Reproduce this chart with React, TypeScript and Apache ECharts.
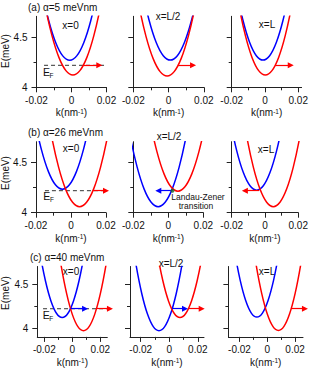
import React, { useEffect, useRef } from "react";
import * as echarts from "echarts";

// ---------- data ----------
const EF = 4.22; // Fermi level (meV)

const xMajorTicks = [-0.02, 0, 0.02];
const xMinorTicks = [-0.01, 0.01];
const yMajorTicks = [4, 4.5];
const yMinorTicks = [4.25];

// (a) alpha = 5 meVnm
const aLeftBlue = [[-0.021, 5.37], [-0.017, 4.974], [-0.013, 4.666], [-0.009, 4.446], [-0.005, 4.314], [-0.001, 4.27], [0.003, 4.314], [0.007, 4.446], [0.011, 4.666], [0.015, 4.974], [0.019, 5.37]];
const aLeftRed = [[-0.0192, 5.223], [-0.0152, 4.827], [-0.0112, 4.519], [-0.0072, 4.299], [-0.0032, 4.167], [0.0008, 4.123], [0.0048, 4.167], [0.0088, 4.299], [0.0128, 4.519], [0.0168, 4.827], [0.0208, 5.223]];
const aMidBlue = [[-0.019, 5.372], [-0.015, 4.976], [-0.011, 4.668], [-0.007, 4.448], [-0.003, 4.316], [0.001, 4.272], [0.005, 4.316], [0.009, 4.448], [0.013, 4.668], [0.017, 4.976], [0.021, 5.372]];
const aMidRed = [[-0.0208, 5.213], [-0.0168, 4.817], [-0.0128, 4.509], [-0.0088, 4.289], [-0.0048, 4.157], [-0.0008, 4.113], [0.0032, 4.157], [0.0072, 4.289], [0.0112, 4.509], [0.0152, 4.817], [0.0192, 5.213]];
const aRightBlue = [[-0.0212, 5.372], [-0.0172, 4.976], [-0.0132, 4.668], [-0.0092, 4.448], [-0.0052, 4.316], [-0.0012, 4.272], [0.0028, 4.316], [0.0068, 4.448], [0.0108, 4.668], [0.0148, 4.976], [0.0188, 5.372]];
const aRightRed = [[-0.0198, 5.223], [-0.0158, 4.827], [-0.0118, 4.519], [-0.0078, 4.299], [-0.0038, 4.167], [0.0002, 4.123], [0.0042, 4.167], [0.0082, 4.299], [0.0122, 4.519], [0.0162, 4.827], [0.0202, 5.223]];

// (b) alpha = 26 meVnm
const bLeftBlue = [[-0.0249, 5.335], [-0.0209, 4.939], [-0.0169, 4.631], [-0.0129, 4.411], [-0.0089, 4.279], [-0.0049, 4.235], [-0.0009, 4.279], [0.0031, 4.411], [0.0071, 4.631], [0.0111, 4.939], [0.0151, 5.335]];
const bLeftRed = [[-0.0151, 5.16], [-0.0111, 4.764], [-0.0071, 4.456], [-0.0031, 4.236], [0.0009, 4.104], [0.0049, 4.06], [0.0089, 4.104], [0.0129, 4.236], [0.0169, 4.456], [0.0209, 4.764], [0.0249, 5.16]];
const bMidBlue = [[-0.0258, 5.16], [-0.0218, 4.764], [-0.0178, 4.456], [-0.0138, 4.236], [-0.0098, 4.104], [-0.0058, 4.06], [-0.0018, 4.104], [0.0022, 4.236], [0.0062, 4.456], [0.0102, 4.764], [0.0142, 5.16]];
const bMidRed = [[-0.0145, 5.315], [-0.0105, 4.919], [-0.0065, 4.611], [-0.0025, 4.391], [0.0015, 4.259], [0.0055, 4.215], [0.0095, 4.259], [0.0135, 4.391], [0.0175, 4.611], [0.0215, 4.919], [0.0255, 5.315]];
const bRightBlue = [[-0.025, 5.325], [-0.021, 4.929], [-0.017, 4.621], [-0.013, 4.401], [-0.009, 4.269], [-0.005, 4.225], [-0.001, 4.269], [0.003, 4.401], [0.007, 4.621], [0.011, 4.929], [0.015, 5.325]];
const bRightRed = [[-0.015, 5.16], [-0.011, 4.764], [-0.007, 4.456], [-0.003, 4.236], [0.001, 4.104], [0.005, 4.06], [0.009, 4.104], [0.013, 4.236], [0.017, 4.456], [0.021, 4.764], [0.025, 5.16]];

// (c) alpha = 40 meVnm
const cLeftBlue = [[-0.0272, 5.28], [-0.0232, 4.862], [-0.0192, 4.538], [-0.0152, 4.306], [-0.0112, 4.166], [-0.0072, 4.12], [-0.0032, 4.166], [0.0008, 4.306], [0.0048, 4.538], [0.0088, 4.862], [0.0128, 5.28]];
const cLeftRed = [[-0.012, 5.13], [-0.008, 4.712], [-0.004, 4.388], [0, 4.156], [0.004, 4.016], [0.008, 3.97], [0.012, 4.016], [0.016, 4.156], [0.02, 4.388], [0.024, 4.712], [0.028, 5.13]];
const cMidBlue = [[-0.0272, 5.13], [-0.0232, 4.712], [-0.0192, 4.388], [-0.0152, 4.156], [-0.0112, 4.016], [-0.0072, 3.97], [-0.0032, 4.016], [0.0008, 4.156], [0.0048, 4.388], [0.0088, 4.712], [0.0128, 5.13]];
const cMidRed = [[-0.0125, 5.28], [-0.0085, 4.862], [-0.0045, 4.538], [-0.0005, 4.306], [0.0035, 4.166], [0.0075, 4.12], [0.0115, 4.166], [0.0155, 4.306], [0.0195, 4.538], [0.0235, 4.862], [0.0275, 5.28]];
const cRightBlue = [[-0.0275, 5.285], [-0.0235, 4.867], [-0.0195, 4.543], [-0.0155, 4.311], [-0.0115, 4.171], [-0.0075, 4.125], [-0.0035, 4.171], [0.0005, 4.311], [0.0045, 4.543], [0.0085, 4.867], [0.0125, 5.285]];
const cRightRed = [[-0.012, 5.133], [-0.008, 4.715], [-0.004, 4.391], [0, 4.159], [0.004, 4.019], [0.008, 3.973], [0.012, 4.019], [0.016, 4.159], [0.02, 4.391], [0.024, 4.715], [0.028, 5.133]];

// arrows along E_F: [k start, k end]
const aLeftRedArrow = [0.0067, 0.0159];
const aMidRedArrow = [0.0054, 0.0139];
const aRightRedArrow = [0.0061, 0.0155];
const bLeftRedArrow = [0.0125, 0.02];
const bMidBlueArrow = [0.0024, -0.0057];
const bRightRedArrow = [-0.0035, -0.0121];
const cLeftBlueArrow = [-0.0013, 0.0091];
const cLeftRedArrow = [0.0173, 0.0269];
const cMidBlueArrow = [0.0019, 0.011];
const cMidRedArrow = [0.0134, 0.0227];
const cRightRedArrow = [0.0173, 0.0271];

// Landau-Zener crossing point
const lzPoint = [0.0024, 4.22];

// E_F dashed line extent, in each row's left-panel k units
const efSpanA = [-0.0157, 0.1283];
const efSpanB = [-0.0149, 0.1263];
const efSpanC = [-0.0209, 0.164];

// ---------- layout / styles ----------
const FONT = '"Liberation Sans", Arial, Helvetica, sans-serif';
const RED = "#ff0000";
const BLUE = "#0000ff";
const AXIS = "#222";

const panels = [
  { left: 36.5, top: 16.3, width: 70, height: 71, x: [-0.02, 0.02], y: [4, 4.71], yLab: true, blue: aLeftBlue, red: aLeftRed, arrows: [[aLeftRedArrow, RED]] },
  { left: 133.3, top: 16.3, width: 70.5, height: 71, x: [-0.02, 0.02], y: [4, 4.71], yLab: false, blue: aMidBlue, red: aMidRed, arrows: [[aMidRedArrow, RED]] },
  { left: 231.7, top: 16.3, width: 73.5, height: 71, x: [-0.02, 0.022], y: [4, 4.71], yLab: false, blue: aRightBlue, red: aRightRed, arrows: [[aRightRedArrow, RED]] },
  { left: 36, top: 141.7, width: 70, height: 71, x: [-0.02, 0.02], y: [4, 4.71], yLab: true, blue: bLeftBlue, red: bLeftRed, arrows: [[bLeftRedArrow, RED]] },
  { left: 133.3, top: 141.7, width: 70, height: 71, x: [-0.02, 0.02], y: [4, 4.71], yLab: false, blue: bMidBlue, red: bMidRed, arrows: [[bMidBlueArrow, BLUE]] },
  { left: 231.7, top: 141.7, width: 69, height: 71, x: [-0.02, 0.02], y: [4, 4.71], yLab: false, blue: bRightBlue, red: bRightRed, arrows: [[bRightRedArrow, RED]] },
  { left: 37.3, top: 266.5, width: 70, height: 70.4, x: [-0.025, 0.025], y: [3.9, 4.7], yLab: true, blue: cLeftBlue, red: cLeftRed, arrows: [[cLeftBlueArrow, BLUE], [cLeftRedArrow, RED]] },
  { left: 130, top: 266.5, width: 74, height: 70.4, x: [-0.0275, 0.0243], y: [3.9, 4.7], yLab: false, blue: cMidBlue, red: cMidRed, arrows: [[cMidBlueArrow, BLUE], [cMidRedArrow, RED]] },
  { left: 228.4, top: 266.5, width: 74.6, height: 70.4, x: [-0.028, 0.0257], y: [3.9, 4.7], yLab: false, blue: cRightBlue, red: cRightRed, arrows: [[cRightRedArrow, RED]] },
];

const efLines = [
  { panel: 0, span: efSpanA },
  { panel: 3, span: efSpanB },
  { panel: 6, span: efSpanC },
];

function txt(x: number, y: number, text: string, size: number, align = "left", extra: any = {}) {
  return {
    type: "text",
    x,
    y,
    silent: true,
    ...extra,
    style: { text, fontSize: size, fontFamily: FONT, fill: "#111", align, verticalAlign: "middle" },
  };
}

function buildOption() {
  const grid: any[] = [];
  const xAxis: any[] = [];
  const yAxis: any[] = [];
  const series: any[] = [];

  panels.forEach((p, i) => {
    grid.push({ left: p.left, top: p.top, width: p.width, height: p.height });
    const xi = 2 * i;
    // major x axis
    xAxis.push({
      type: "value", gridIndex: i, position: "bottom", min: p.x[0], max: p.x[1],
      splitLine: { show: false },
      axisLine: { show: true, onZero: false, lineStyle: { color: AXIS, width: 1 } },
      axisTick: { show: true, inside: false, length: 5, customValues: xMajorTicks, lineStyle: { color: AXIS, width: 1 } },
      axisLabel: { show: true, customValues: xMajorTicks, margin: 8, fontSize: 10, color: "#111", fontFamily: FONT, formatter: (v: number) => String(Math.round(v * 1000) / 1000) },
      name: "k(nm{sup|-1})", nameLocation: "middle", nameGap: 20.5,
      nameTextStyle: { fontSize: 10, color: "#111", fontFamily: FONT, rich: { sup: { fontSize: 6.5, verticalAlign: "top", fontFamily: FONT, color: "#111", lineHeight: 9 } } },
    });
    // minor x axis
    xAxis.push({
      type: "value", gridIndex: i, position: "bottom", min: p.x[0], max: p.x[1],
      splitLine: { show: false },
      axisLine: { show: false, onZero: false },
      axisTick: { show: true, inside: false, length: 3, customValues: xMinorTicks, lineStyle: { color: AXIS, width: 1 } },
      axisLabel: { show: false },
    });
    // major y axis
    yAxis.push({
      type: "value", gridIndex: i, position: "left", min: p.y[0], max: p.y[1],
      splitLine: { show: false },
      axisLine: { show: true, onZero: false, lineStyle: { color: AXIS, width: 1 } },
      axisTick: { show: true, inside: false, length: 5, customValues: yMajorTicks, lineStyle: { color: AXIS, width: 1 } },
      axisLabel: { show: p.yLab, customValues: yMajorTicks, margin: 9, fontSize: 10, color: "#111", fontFamily: FONT },
    });
    // minor y axis
    yAxis.push({
      type: "value", gridIndex: i, position: "left", min: p.y[0], max: p.y[1],
      splitLine: { show: false },
      axisLine: { show: false, onZero: false },
      axisTick: { show: true, inside: false, length: 3, customValues: yMinorTicks, lineStyle: { color: AXIS, width: 1 } },
      axisLabel: { show: false },
    });

    const curve = (data: number[][], color: string) => ({
      type: "line", xAxisIndex: xi, yAxisIndex: xi, data, smooth: 0.33,
      symbol: "none", showSymbol: false, clip: true, silent: true,
      lineStyle: { color, width: 1.5 }, z: 3,
    });
    series.push(curve(p.blue, BLUE));
    series.push(curve(p.red, RED));

    p.arrows.forEach(([ar, color]: any) => {
      series.push({
        type: "lines", coordinateSystem: "cartesian2d", xAxisIndex: xi, yAxisIndex: xi,
        clip: false, silent: true,
        symbol: ["none", "triangle"], symbolSize: [5, 6],
        lineStyle: { color, width: 1.2, opacity: 1, curveness: 0 },
        data: [{ coords: [[ar[0], EF], [ar[1], EF]] }],
        z: 4,
      });
    });
  });

  efLines.forEach((e) => {
    series.push({
      type: "line", xAxisIndex: 2 * e.panel, yAxisIndex: 2 * e.panel,
      data: [[e.span[0], EF], [e.span[1], EF]], clip: false, silent: true,
      symbol: "none", showSymbol: false,
      lineStyle: { color: "#333", width: 1, type: [4, 3] }, z: 2,
    });
  });

  series.push({
    type: "scatter", xAxisIndex: 8, yAxisIndex: 8, data: [lzPoint],
    symbolSize: 4, itemStyle: { color: "#1f6b1f" }, silent: true, z: 6,
  });

  const elements: any[] = [
    txt(28, 7.5, "(a) α=5 meVnm", 10),
    txt(28, 132.7, "(b) α=26 meVnm", 10),
    txt(30, 257.3, "(c) α=40 meVnm", 10),

    txt(70.5, 25, "x=0", 10, "center"),
    txt(168, 16, "x=L/2", 10, "center"),
    txt(267, 24, "x=L", 10, "center"),
    txt(71, 148.5, "x=0", 10, "center"),
    txt(169, 136.7, "x=L/2", 10, "center"),
    txt(266, 149.3, "x=L", 10, "center"),
    txt(71, 271.7, "x=0", 10, "center"),
    txt(171, 263.3, "x=L/2", 10, "center"),
    txt(267, 271, "x=L", 10, "center"),

    txt(5, 51, "E(meV)", 10, "center", { rotation: Math.PI / 2 }),
    txt(5, 173, "E(meV)", 10, "center", { rotation: Math.PI / 2 }),
    txt(5, 293, "E(meV)", 10, "center", { rotation: Math.PI / 2 }),

    txt(43, 71.7, "E", 10.5),
    txt(49.6, 75, "F", 6.5),
    txt(43.3, 196, "E", 10.5),
    txt(49.9, 199.3, "F", 6.5),
    txt(42.7, 315, "E", 10.5),
    txt(49.3, 318.3, "F", 6.5),

    txt(198, 196.7, "Landau-Zener", 8.5, "center"),
    txt(196, 206, "transition", 8.5, "center"),
  ];

  return {
    animation: false,
    backgroundColor: "#ffffff",
    grid,
    xAxis,
    yAxis,
    series,
    graphic: { elements },
  };
}

export default function App() {
  const ref = useRef<HTMLDivElement>(null);
  useEffect(() => {
    if (!ref.current) return;
    const chart = echarts.init(ref.current, undefined, { renderer: "svg" });
    chart.setOption(buildOption() as any);
    return () => chart.dispose();
  }, []);
  return (
    <div
      ref={ref}
      style={{ position: "absolute", left: 0, top: 0, width: 311, height: 370, background: "#fff" }}
    />
  );
}
